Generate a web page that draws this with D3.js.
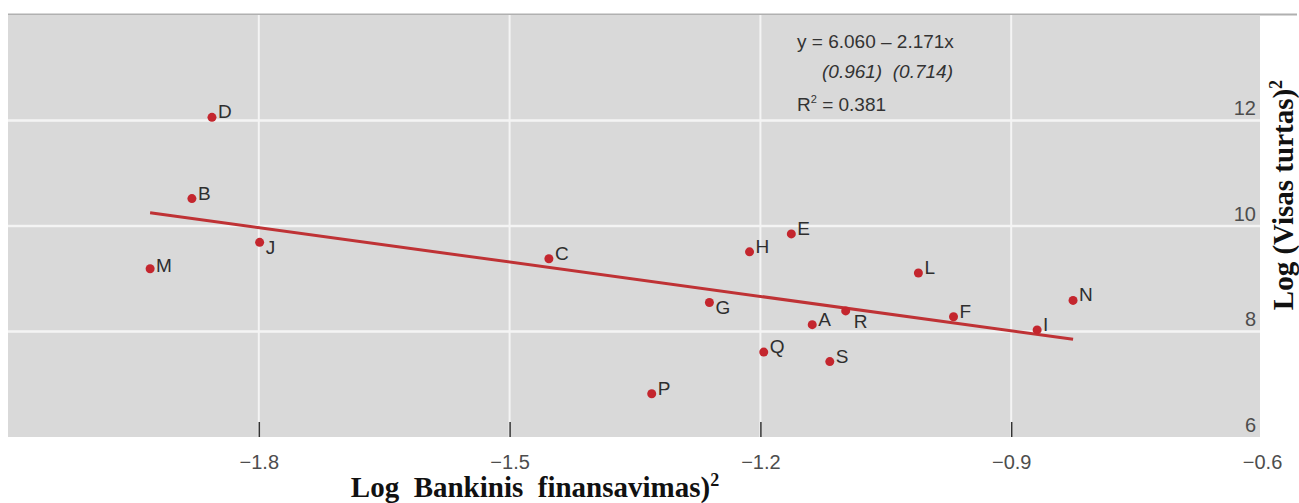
<!DOCTYPE html>
<html>
<head>
<meta charset="utf-8">
<script src="https://cdn.jsdelivr.net/npm/d3@7"></script>
<style>
  body { margin: 0; background: #fff; }
  svg { display: block; }
  .tick-label { font-family: "Liberation Sans", Arial, sans-serif; font-size: 20px; fill: #4d4d4d; }
  .pt-label { font-family: "Liberation Sans", Arial, sans-serif; font-size: 19px; fill: #2e2e2e; }
  .note { font-family: "Liberation Sans", Arial, sans-serif; font-size: 19px; fill: #333; }
  .title { font-family: "Liberation Serif", "Times New Roman", serif; font-weight: bold; font-size: 29px; fill: #111; white-space: pre; }
</style>
</head>
<body>
<div id="chart"></div>
<script>
// data
const labels = ["A", "B", "C", "D", "E", "F", "G", "H", "I", "J", "L", "M", "N", "P", "Q", "R", "S"];
const xVals  = [-1.138, -1.880, -1.453, -1.856, -1.163, -0.969, -1.261, -1.213, -0.869, -1.799, -1.011, -1.930, -0.826, -1.330, -1.196, -1.098, -1.117];
const yVals  = [8.13, 10.52, 9.38, 12.06, 9.85, 8.28, 8.55, 9.51, 8.03, 9.69, 9.11, 9.19, 8.59, 6.82, 7.61, 8.39, 7.43];

const xTicks = [-1.8, -1.5, -1.2, -0.9, -0.6];
const yTicks = [6, 8, 10, 12];

// fitted line, from the annotation
const intercept = 6.060;
const slope = -2.171;
const noteLines = ["y = 6.060 \u2013 2.171x", "(0.961)  (0.714)", " = 0.381"];

const width = 1299, height = 503;

const svg = d3.select("#chart")
  .append("svg")
    .attr("width", width)
    .attr("height", height);

// set scales
const x = d3.scaleLinear().domain([-2.1, -0.6]).range([8, 1262]);
const y = d3.scaleLinear().domain([6, 14]).range([437, 15]);

// top rule
svg.append("line")
  .attr("x1", 8).attr("x2", 1297)
  .attr("y1", 14.5).attr("y2", 14.5)
  .attr("stroke", "#b0b0b0")
  .attr("stroke-width", 2);

// panel
svg.append("rect")
  .attr("x", x(-2.1))
  .attr("y", y(14))
  .attr("width", x(-0.6) - x(-2.1) - 2)
  .attr("height", y(6) - y(14))
  .attr("fill", "#d9d9d9");

// grid
svg.append("g")
  .selectAll("line")
  .data(yTicks.filter(d => d > 6))
  .join("line")
    .attr("x1", x(-2.1)).attr("x2", x(-0.6) - 2)
    .attr("y1", d => y(d)).attr("y2", d => y(d))
    .attr("stroke", "#f4f4f4")
    .attr("stroke-width", 2.5);

svg.append("g")
  .selectAll("line")
  .data(xTicks.filter(d => d < -0.6))
  .join("line")
    .attr("x1", d => x(d)).attr("x2", d => x(d))
    .attr("y1", y(14)).attr("y2", y(6))
    .attr("stroke", "#f4f4f4")
    .attr("stroke-width", 2);

// x axis: inward ticks, labels below
const xAxis = svg.append("g")
  .attr("transform", `translate(0,${y(6)})`)
  .call(d3.axisBottom(x).tickValues(xTicks).tickSizeInner(-15).tickSizeOuter(0).tickPadding(18).tickFormat(d3.format(".1f")));
xAxis.select(".domain").remove();
xAxis.selectAll(".tick line")
  .attr("stroke", "#333")
  .attr("stroke-width", 1.5)
  .attr("opacity", d => d < -0.6 ? 1 : 0);
xAxis.selectAll(".tick text")
  .attr("class", "tick-label")
  .attr("font-family", null).attr("font-size", null)
  .attr("fill", null)
  .attr("y", 18);

// y axis labels, inside the panel on the right
const yAxis = svg.append("g")
  .attr("transform", `translate(${x(-0.6) - 6},0)`)
  .call(d3.axisLeft(y).tickValues(yTicks).tickSize(0).tickPadding(0).tickFormat(d3.format("d")));
yAxis.select(".domain").remove();
yAxis.selectAll(".tick text")
  .attr("class", "tick-label")
  .attr("font-family", null).attr("font-size", null)
  .attr("fill", null)
  .attr("dy", "-0.3em");

// regression line
const xr = d3.extent(xVals);
svg.append("line")
  .attr("x1", x(xr[0])).attr("y1", y(intercept + slope * xr[0]))
  .attr("x2", x(xr[1])).attr("y2", y(intercept + slope * xr[1]))
  .attr("stroke", "#bf3235")
  .attr("stroke-width", 3);

// points
const points = labels.map((d, i) => ({name: d, x: xVals[i], y: yVals[i]}));
const labelNudge = {G: 11, J: 11, R: 16, M: 2};

svg.append("g")
  .selectAll("circle")
  .data(points)
  .join("circle")
    .attr("cx", d => x(d.x))
    .attr("cy", d => y(d.y))
    .attr("r", 4.5)
    .attr("fill", "#c4262e");

svg.append("g")
  .selectAll("text")
  .data(points)
  .join("text")
    .attr("class", "pt-label")
    .attr("x", d => x(d.x) + (d.name === "R" ? 8 : 6))
    .attr("y", d => y(d.y) + 1 + (labelNudge[d.name] || 0))
    .text(d => d.name);

// regression note
svg.append("text")
  .attr("class", "note")
  .attr("x", 797).attr("y", 48)
  .text(noteLines[0]);
svg.append("text")
  .attr("class", "note")
  .attr("x", 822).attr("y", 78)
  .attr("font-style", "italic")
  .style("white-space", "pre")
  .text(noteLines[1]);
const r2 = svg.append("text")
  .attr("class", "note")
  .attr("x", 797).attr("y", 111);
r2.append("tspan").text("R");
r2.append("tspan").attr("dy", -8).attr("font-size", 11).text("2");
r2.append("tspan").attr("dy", 8).text(noteLines[2]);

// axis titles
const xt = svg.append("text")
  .attr("class", "title")
  .attr("x", 535).attr("y", 497)
  .attr("text-anchor", "middle");
xt.append("tspan").text("Log  Bankinis  finansavimas)");
xt.append("tspan").attr("dy", -11).attr("font-size", 18).text("2");

const yt = svg.append("text")
  .attr("class", "title")
  .attr("transform", "translate(1293,195) rotate(-90)")
  .attr("text-anchor", "middle");
yt.append("tspan").text("Log (Visas turtas)");
yt.append("tspan").attr("dy", -11).attr("font-size", 18).text("2");
</script>
</body>
</html>
